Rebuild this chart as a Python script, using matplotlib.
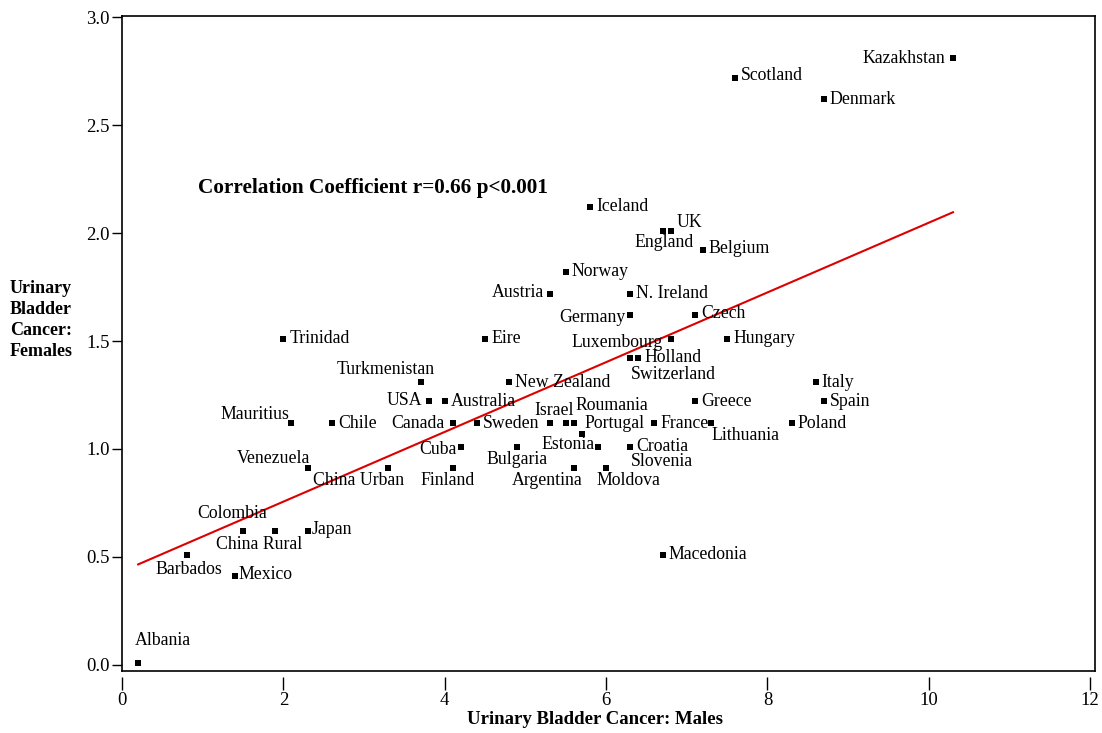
"""Female vs male urinary bladder cancer rates by country, with a least-squares line."""

import numpy as np
import matplotlib
matplotlib.use("Agg")
import matplotlib.pyplot as plt

plt.rcParams["font.family"] = ["Liberation Serif", "DejaVu Serif"]

countries = [
    "Kazakhstan", "Scotland", "Denmark", "Iceland", "UK", "England", "Belgium",
    "Norway", "Austria", "N. Ireland", "Germany", "Czech", "Luxembourg", "Hungary",
    "Trinidad", "Eire", "Holland", "Switzerland", "Turkmenistan", "New Zealand",
    "Italy", "USA", "Australia", "Greece", "Spain", "Mauritius", "Chile", "Canada",
    "Sweden", "Israel", "Roumania", "Portugal", "Estonia", "Slovenia", "France",
    "Lithuania", "Poland", "Cuba", "Bulgaria", "Croatia", "Venezuela", "China Urban",
    "Finland", "Argentina", "Moldova", "Colombia", "China Rural", "Japan",
    "Barbados", "Mexico", "Macedonia", "Albania",
]
males = [
    10.3, 7.6, 8.7, 5.8, 6.8, 6.7, 7.2,
    5.5, 5.3, 6.3, 6.3, 7.1, 6.8, 7.5,
    2.0, 4.5, 6.4, 6.3, 3.7, 4.8,
    8.6, 3.8, 4.0, 7.1, 8.7, 2.1, 2.6, 4.1,
    4.4, 5.3, 5.5, 5.6, 5.7, 5.9, 6.6,
    7.3, 8.3, 4.2, 4.9, 6.3, 2.3, 3.3,
    4.1, 5.6, 6.0, 1.5, 1.9, 2.3,
    0.8, 1.4, 6.7, 0.2,
]
females = [
    2.81, 2.72, 2.62, 2.12, 2.01, 2.01, 1.92,
    1.82, 1.72, 1.72, 1.62, 1.62, 1.51, 1.51,
    1.51, 1.51, 1.42, 1.42, 1.31, 1.31,
    1.31, 1.22, 1.22, 1.22, 1.22, 1.12, 1.12, 1.12,
    1.12, 1.12, 1.12, 1.12, 1.07, 1.01, 1.12,
    1.12, 1.12, 1.01, 1.01, 1.01, 0.91, 0.91,
    0.91, 0.91, 0.91, 0.62, 0.62, 0.62,
    0.51, 0.41, 0.51, 0.01,
]

# label placement: (dx, dy) in pixels from the point, horizontal alignment
R = (6, 0, "left")
label_pos = {
    "Kazakhstan": (-8, 0, "right"), "Scotland": (6, 2, "left"), "Denmark": R,
    "Iceland": (6, 1, "left"), "UK": (6, 8, "left"), "England": (2, -12, "center"),
    "Belgium": (6, 2, "left"), "Norway": R, "Austria": (-6, 1, "right"),
    "N. Ireland": R, "Germany": (-5, -2, "right"), "Czech": (6, 2, "left"),
    "Luxembourg": (-8, -4, "right"), "Hungary": R, "Trinidad": R, "Eire": R,
    "Holland": (6, 1, "left"), "Switzerland": (1, -16, "left"),
    "Turkmenistan": (-35, 13, "center"), "New Zealand": R, "Italy": R,
    "USA": (-6, 1, "right"), "Australia": R, "Greece": R, "Spain": R,
    "Mauritius": (-2, 9, "right"), "Chile": R, "Canada": (-8, 0, "right"),
    "Sweden": R, "Israel": (5, 13, "center"), "Roumania": (10, 18, "left"),
    "Portugal": (11, 0, "left"), "Estonia": (13, -11, "right"),
    "Slovenia": (33, -15, "left"), "France": R, "Lithuania": (1, -12, "left"),
    "Poland": R, "Cuba": (-4, -3, "right"), "Bulgaria": (0, -13, "center"),
    "Croatia": R, "Venezuela": (3, 10, "right"), "China Urban": (-30, -12, "center"),
    "Finland": (-5, -12, "center"), "Argentina": (-27, -12, "center"),
    "Moldova": (22, -12, "center"), "Colombia": (-11, 18, "center"),
    "China Rural": (-16, -13, "center"), "Japan": (4, 2, "left"),
    "Barbados": (2, -15, "center"), "Mexico": (4, 2, "left"),
    "Macedonia": R, "Albania": (-3, 22, "left"),
}

x = np.array(males)
y = np.array(females)
slope, intercept = np.polyfit(x, y, 1)
r = np.corrcoef(x, y)[0, 1]

fig = plt.figure(figsize=(11.02, 7.33), dpi=100)
ax = fig.add_axes([122 / 1102, 1 - 671 / 733, (1095 - 122) / 1102, (671 - 16) / 733])

ax.plot(x, y, "s", color="black", ms=3.8, mew=0)
xl = np.array([x.min(), x.max()])
ax.plot(xl, intercept + slope * xl, color="#dd0000", lw=1.5)

for name, xi, yi in zip(countries, males, females):
    dx, dy, ha = label_pos[name]
    ax.annotate(name, (xi, yi), xytext=(dx, dy), textcoords="offset pixels",
                ha=ha, va="center", fontsize=12.8)

ax.text(0.94, 2.21, f"Correlation Coefficient r={r:.2f} p<0.001",
        fontsize=15.3, fontweight="bold", va="center", ha="left")

ax.set_xlim(0, 12.06)
ax.set_ylim(-0.028, 3.005)
ax.set_yticks(np.arange(0, 3.01, 0.5))
ax.set_yticklabels([f"{v:.1f}" for v in np.arange(0, 3.01, 0.5)])
ax.tick_params(axis="y", direction="out", length=7, width=1, labelsize=13.5, pad=2)
for s in ax.spines.values():
    s.set_linewidth(1.2)

# x ticks sit a little below the frame
ax.set_xticks([])
sec = ax.secondary_xaxis(-6 / 655)
sec.set_xticks(np.arange(0, 13, 2))
sec.spines["bottom"].set_visible(False)
sec.tick_params(axis="x", direction="out", length=9, width=1, labelsize=13.5, pad=2)

fig.text(595 / 1102, 1 - 720 / 733, "Urinary Bladder Cancer: Males",
         ha="center", va="center", fontsize=13.5, fontweight="bold")
fig.text(10 / 1102, 1 - 320 / 733, "Urinary\nBladder\nCancer:\nFemales",
         ha="left", va="center", fontsize=13, fontweight="bold", linespacing=1.3)

fig.savefig("out.png", dpi=100)
